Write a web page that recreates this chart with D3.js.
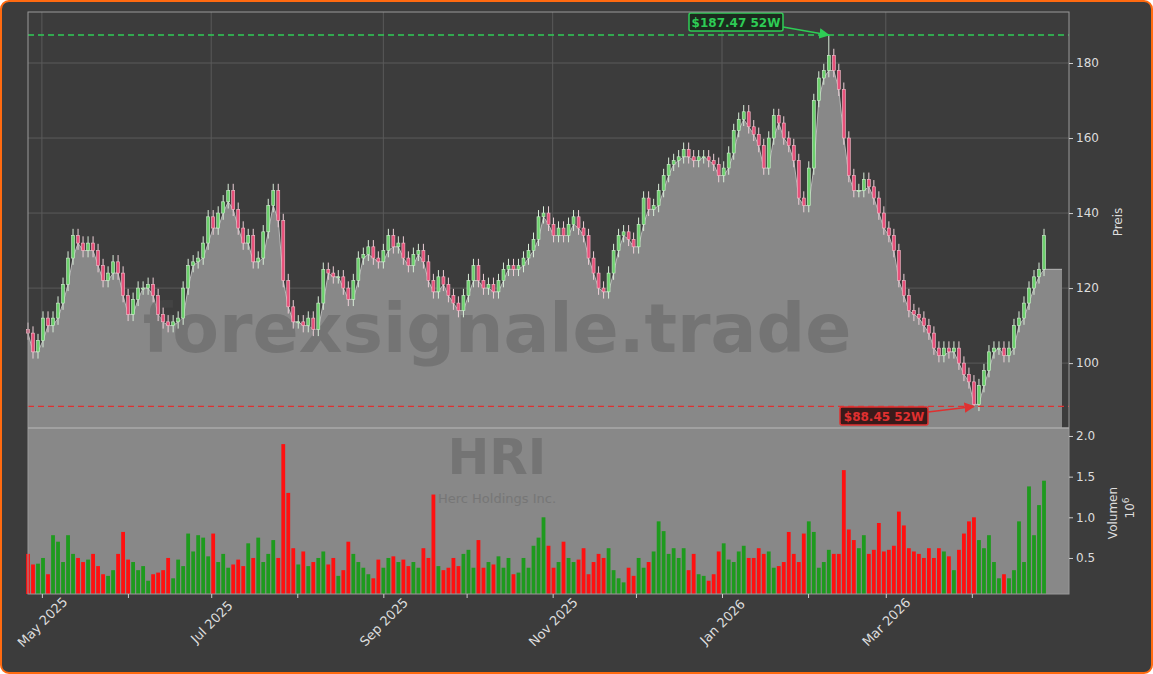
<!DOCTYPE html><html><head><meta charset="utf-8"><script src="https://cdn.jsdelivr.net/npm/d3@7"></script>
<style>body{margin:0;background:#fff}svg{display:block}</style></head><body><svg id="c" width="1153" height="674"></svg><script>
const closes=[108,103,106,112,110,112,116,121,128,134,132,130,132,130,126,122,124,127,124,118,113,117,120,120,121,118,113,111,110,111,112,120,126,127,128,132,139,136,140,143,146,141,136,132,134,127,128,135,142,146,138,122,115,111,111,110,112,109,116,125,124,123,123,120,117,122,128,129,131,128,127,130,134,131,132,128,126,129,130,127,122,119,123,121,118,116,114,118,122,126,122,120,121,119,122,125,126,125,126,128,130,133,139,140,137,134,136,134,137,139,136,134,128,124,120,119,124,130,134,135,133,131,137,144,141,142,146,150,153,154,155,157,155,154,155,155,154,153,150,152,156,162,165,167,163,161,158,152,160,166,164,160,158,154,144,142,152,170,176,178,182,178,173,160,150,146,146,149,147,144,140,136,134,130,122,118,114,113,112,110,108,104,102,104,103,104,100,97,95,89,94,98,103,104,104,102,104,110,112,116,120,123,125,134];
const volumes=[.55,.42,.43,.5,.3,.78,.7,.45,.78,.55,.5,.45,.48,.55,.4,.3,.28,.35,.55,.82,.48,.45,.35,.4,.22,.3,.32,.35,.5,.25,.48,.4,.8,.58,.78,.75,.52,.8,.45,.55,.38,.42,.48,.4,.68,.5,.75,.45,.55,.72,.5,1.9,1.3,.62,.42,.58,.4,.45,.5,.58,.42,.5,.28,.35,.7,.55,.45,.38,.3,.25,.48,.38,.5,.52,.45,.48,.4,.45,.38,.62,.5,1.28,.4,.35,.38,.5,.4,.55,.6,.38,.72,.38,.45,.42,.52,.38,.5,.3,.32,.5,.38,.65,.75,1.0,.65,.38,.45,.7,.5,.45,.48,.62,.3,.45,.55,.5,.62,.35,.25,.2,.38,.28,.5,.38,.45,.58,.95,.83,.55,.62,.5,.62,.35,.55,.3,.28,.22,.3,.58,.68,.48,.45,.58,.65,.5,.5,.62,.55,.58,.38,.4,.45,.82,.55,.45,.8,.95,.82,.38,.45,.6,.55,.55,1.58,.85,.72,.62,.78,.55,.6,.93,.58,.6,.65,1.07,.9,.62,.58,.55,.5,.62,.5,.62,.58,.52,.35,.6,.8,.95,1.0,.72,.62,.78,.45,.25,.3,.25,.35,.95,.45,1.38,.78,1.15,1.45];
const high52={value:187.47,index:160}, low52={value:88.45,index:189};
const priceTicks=[100,120,140,160,180], volTicks=[0.5,1.0,1.5,2.0];
const startDate=new Date(2025,3,26), endDate=new Date(2026,3,27);
const title="HRI", company="Herc Holdings Inc.", watermark="forexsignale.trade";

const svg=d3.select("#c");
svg.append("rect").attr("x",1).attr("y",1).attr("width",1151).attr("height",672).attr("rx",8).attr("fill","#3c3c3c").attr("stroke","#ff6a10").attr("stroke-width",2);
const L=28,R=1069,PT=12,PB=428,VB=594;
const n=closes.length;
const x=d3.scaleTime().domain([new Date(2025,3,26),new Date(2026,4,6)]).range([L,R]);
const dates=closes.map((c,i)=>new Date(+startDate+i*(endDate-startDate)/(n-1)));
const y=d3.scaleLinear().domain([82.7,193.6]).range([PB,PT]);
const yv=d3.scaleLinear().domain([0.057,2.098]).range([VB,PB]);
const data=closes.map((c,i)=>{const o=i?closes[i-1]:c+1;let h=Math.max(o,c)+1.8,l=Math.min(o,c)-1.8;
 if(i===high52.index)h=high52.value; if(i===low52.index)l=low52.value;return {d:dates[i],o,c,h,l,v:volumes[i]};});
const g=svg.append("g");
g.selectAll(".hg").data(priceTicks).join("line").attr("x1",L).attr("x2",R).attr("y1",d=>y(d)).attr("y2",d=>y(d)).attr("stroke","#5a5a5a");
const monthTicks=x.ticks(d3.timeMonth.every(1)).filter(d=>d<new Date(2026,3,15));
const mt=monthTicks.filter(d=>d.getMonth()%2===0);
g.selectAll(".vg").data(mt).join("line").attr("x1",d=>x(d)).attr("x2",d=>x(d)).attr("y1",PT).attr("y2",PB).attr("stroke","#5a5a5a");
const lastX=1062;
const areaPts=data.map(d=>[x(d.d),y(Math.min(d.o,d.c))]);areaPts.push([lastX,areaPts[n-1][1]]);
const ar=d3.area().x(d=>d[0]).y0(PB).y1(d=>d[1]);
svg.append("path").attr("d",ar(areaPts)).attr("fill","#888");
svg.append("path").attr("d",d3.line()(areaPts)).attr("fill","none").attr("stroke","#b8b8b8").attr("stroke-width",1);
svg.append("rect").attr("x",L).attr("y",PB).attr("width",R-L).attr("height",VB-PB).attr("fill","#888");
svg.append("text").attr("x",497).attr("y",352).attr("text-anchor","middle").attr("font-family","DejaVu Sans").attr("font-weight","bold").attr("font-size",68).attr("fill","#505050").attr("opacity",0.35).text(watermark);
svg.append("text").attr("x",497).attr("y",474).attr("text-anchor","middle").attr("font-family","DejaVu Sans").attr("font-weight","bold").attr("font-size",50).attr("fill","#505050").attr("opacity",0.35).text(title);
svg.append("text").attr("x",497).attr("y",503).attr("text-anchor","middle").attr("font-family","DejaVu Sans").attr("font-size",13).attr("fill","#666").attr("opacity",0.5).text(company);
const bw=3.8;
svg.selectAll(".vb").data(data).join("rect").attr("x",d=>x(d.d)-bw/2).attr("width",bw).attr("y",d=>yv(d.v)).attr("height",d=>VB-yv(d.v)).attr("fill",d=>d.c>=d.o?"#1e9a1e":"#ff1010");
const cw=3;
svg.selectAll(".wk").data(data).join("line").attr("x1",d=>x(d.d)).attr("x2",d=>x(d.d)).attr("y1",d=>y(d.h)).attr("y2",d=>y(d.l)).attr("stroke",d=>d.c>=d.o?"#d8ecd8":"#ecd0d8").attr("stroke-width",1);
svg.selectAll(".bd").data(data).join("rect").attr("x",d=>x(d.d)-cw/2).attr("width",cw).attr("y",d=>y(Math.max(d.o,d.c))).attr("height",d=>Math.max(1,Math.abs(y(d.o)-y(d.c)))).attr("fill",d=>d.c>=d.o?"#6cd06c":"#e8507a").attr("stroke",d=>d.c>=d.o?"#d0f0d0":"#f4c0cc").attr("stroke-width",0.6);
svg.append("line").attr("x1",L).attr("x2",R).attr("y1",y(high52.value)).attr("y2",y(high52.value)).attr("stroke","#2ecc55").attr("stroke-dasharray","6,4").attr("stroke-width",1.3);
svg.append("line").attr("x1",L).attr("x2",R).attr("y1",y(low52.value)).attr("y2",y(low52.value)).attr("stroke","#e03030").attr("stroke-dasharray","6,4").attr("stroke-width",1.3);
const defs=svg.append("defs");
[["ag","#2ecc55"],["ar","#e03030"]].forEach(([id,c])=>defs.append("marker").attr("id",id).attr("viewBox","0 0 10 10").attr("refX",9).attr("refY",5).attr("markerWidth",7).attr("markerHeight",7).attr("orient","auto").append("path").attr("d","M0,0L10,5L0,10z").attr("fill",c));
const hx=x(data[high52.index].d), lx=x(data[low52.index].d);
svg.append("line").attr("x1",783).attr("y1",27).attr("x2",hx).attr("y2",y(high52.value)).attr("stroke","#2ecc55").attr("stroke-width",1.5).attr("marker-end","url(#ag)");
svg.append("rect").attr("x",689).attr("y",13).attr("width",94).attr("height",18).attr("rx",2).attr("fill","#1c2a1e").attr("stroke","#2ecc55").attr("stroke-width",1.5);
svg.append("text").attr("x",736).attr("y",26.5).attr("text-anchor","middle").attr("font-family","DejaVu Sans").attr("font-weight","bold").attr("font-size",12).attr("fill","#2ecc55").text("$"+high52.value.toFixed(2)+" 52W");
svg.append("line").attr("x1",928).attr("y1",412).attr("x2",lx).attr("y2",y(low52.value)).attr("stroke","#e03030").attr("stroke-width",1.5).attr("marker-end","url(#ar)");
svg.append("rect").attr("x",840).attr("y",407).attr("width",88).attr("height",18).attr("rx",2).attr("fill","#3a1a1a").attr("stroke","#e03030").attr("stroke-width",1.5);
svg.append("text").attr("x",884).attr("y",420.5).attr("text-anchor","middle").attr("font-family","DejaVu Sans").attr("font-weight","bold").attr("font-size",12).attr("fill","#e03030").text("$"+low52.value.toFixed(2)+" 52W");
svg.append("rect").attr("x",L).attr("y",PT).attr("width",R-L).attr("height",VB-PT).attr("fill","none").attr("stroke","#999");
svg.append("line").attr("x1",L).attr("x2",R).attr("y1",PB).attr("y2",PB).attr("stroke","#aaa").attr("stroke-width",1.5);
const ap=svg.append("g").attr("transform",`translate(${R},0)`).call(d3.axisRight(y).tickValues(priceTicks).tickSize(4));
const av=svg.append("g").attr("transform",`translate(${R},0)`).call(d3.axisRight(yv).tickValues(volTicks).tickSize(4).tickFormat(d3.format(".1f")));
const ax=svg.append("g").attr("transform",`translate(0,${VB})`).call(d3.axisBottom(x).tickValues(monthTicks).tickSize(4).tickFormat(d=>d.getMonth()%2===0?d3.timeFormat("%b %Y")(d):""));
[ap,av,ax].forEach(a=>{a.select(".domain").remove();a.selectAll("line").attr("stroke","#ccc");a.selectAll("text").attr("fill","#ddd").attr("font-family","DejaVu Sans").attr("font-size",12);});
ax.selectAll("text").attr("font-size",13).attr("text-anchor","middle").attr("y",0).attr("dy","0.35em").attr("transform","translate(0,28) rotate(-45)");
svg.append("text").attr("transform","translate(1122,222) rotate(-90)").attr("text-anchor","middle").attr("font-family","DejaVu Sans").attr("font-size",12).attr("fill","#ddd").text("Preis");
svg.append("text").attr("transform","translate(1117,513) rotate(-90)").attr("text-anchor","middle").attr("font-family","DejaVu Sans").attr("font-size",12).attr("fill","#ddd").text("Volumen");
const t6=svg.append("text").attr("transform","translate(1134,508) rotate(-90)").attr("text-anchor","middle").attr("font-family","DejaVu Sans").attr("font-size",12).attr("fill","#ddd");
t6.append("tspan").text("10");t6.append("tspan").attr("dy",-5).attr("font-size",9).text("6");
</script></body></html>
